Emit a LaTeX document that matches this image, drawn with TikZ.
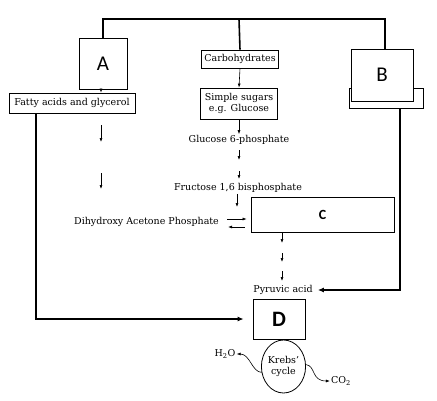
\documentclass[tikz,border=0pt]{standalone}
\usepackage{fontspec}
\setmainfont{DejaVu Serif}
\newfontfamily\lblfont{Carlito}
\usetikzlibrary{positioning,arrows.meta,shapes.geometric}

\begin{document}
\begin{tikzpicture}[x=1pt,y=-1pt,>=Latex,font=\fontsize{9.5}{11}\selectfont]
\tikzstyle{box}=[rectangle,draw,line width=0.8pt,fill=white,inner sep=1pt,align=center]
\tikzstyle{letter}=[rectangle,draw,line width=0.8pt,fill=white,font=\lblfont\fontsize{21}{21}\selectfont]
\tikzstyle{lead}=[line width=1.6pt]
\tikzstyle{small}=[->,line width=0.6pt,>={Latex[length=4pt,width=3pt]}]
\tikzstyle{txt}=[inner sep=1pt]

\useasboundingbox (0,0) rectangle (437,400);

% Boxes
\node[letter,minimum width=48,minimum height=51] (A) at (103,63.5) {A};
\node[box,minimum width=126,minimum height=20] (fat) at (72,103) {Fatty acids and glycerol};
\node[box,minimum width=77,minimum height=18] (carb) at (240,59) {Carbohydrates};
\node[box,minimum width=77,minimum height=31] (sugar) at (239,103.5) {Simple sugars\\e.g. Glucose};
\node[box,minimum width=74,minimum height=20] (amino) at (386,98) {};
\node[letter,minimum width=62,minimum height=52] (B) at (382,75) {B};
\node[letter,minimum width=143,minimum height=35,font=\lblfont\bfseries\fontsize{14}{14}\selectfont] (C) at (322.5,214.5) {C};
\node[letter,minimum width=52,minimum height=40,font=\lblfont\bfseries\fontsize{22}{22}\selectfont] (D) at (279,319) {D};
\node[draw,ellipse,line width=0.8pt,minimum width=43,minimum height=53,inner sep=0pt,align=center] (krebs) at (283.5,366.5) {Krebs'\\cycle};

% Labels
\node[txt] (g6p) at (239,140) {Glucose 6-phosphate};
\node[txt] (f16) at (238,188) {Fructose 1,6 bisphosphate};
\node[txt] (dhap) at (146.5,222) {Dihydroxy Acetone Phosphate};
\node[txt] (pyr) at (283,290) {Pyruvic acid};
\node[txt] (h2o) at (225,354) {H\textsubscript{2}O};
\node[txt] (co2) at (341,381) {CO\textsubscript{2}};

% Free ends
\coordinate (top) at (239,19);
\coordinate (f1) at (101,125);
\coordinate (f2) at (101,142);
\coordinate (f3) at (101,173);
\coordinate (f4) at (101,189);
\coordinate (g1) at (239,150);
\coordinate (g2) at (239,160);
\coordinate (g3) at (239,171);
\coordinate (g4) at (239,179);
\coordinate (g5) at (237,207);
\coordinate (p0) at (282,243);
\coordinate (p1) at (282,253);
\coordinate (p2) at (282,262);
\coordinate (p3) at (282,271);
\coordinate (p4) at (282,281);

% Feeds from the top
\draw[lead] (A.north) |- (top) -| ([xshift=3pt]B.north);
\draw[lead] (carb.north) -- (top);

% Fats
\draw[small] (A.south -| 101,0) -- (fat.north -| 101,0);
\draw[small] (f1) -- (f2);
\draw[small] (f3) -- (f4);
\draw[lead,->,>={Latex[length=6pt,width=5pt]},shorten >=9pt] ([xshift=-36pt]fat.south) |- (D.west);

% Sugars
\draw[small] (carb.south) -- (sugar.north);
\draw[small] (sugar.south) -- (g6p.north);
\draw[small] (g1) -- (g2);
\draw[small] (g3) -- (g4);
\draw[small] (f16.south -| g5) -- (g5);
\draw[small] ([shift={(7,-3)}]dhap.east) -- ([shift={(-4,-3)}]C.west |- dhap.east);
\draw[small] ([shift={(-6,5)}]C.west |- dhap.east) -- ([shift={(8,5)}]dhap.east);
\draw[small] (C.south -| p0) -- (p0);
\draw[small] (p1) -- (p2);
\draw[small] (p3) -- (p4);

% Amino acids
\draw[lead,->,>={Latex[length=6pt,width=5pt]},shorten >=4pt] ([xshift=14pt]amino.south) |- (pyr.east);

% Krebs
\draw[small] (krebs.195) .. controls (252,372) and (250,354) .. (h2o.east);
\draw[small] (krebs.5) .. controls (316,366) and (311,381) .. (co2.west);
\end{tikzpicture}
\end{document}
